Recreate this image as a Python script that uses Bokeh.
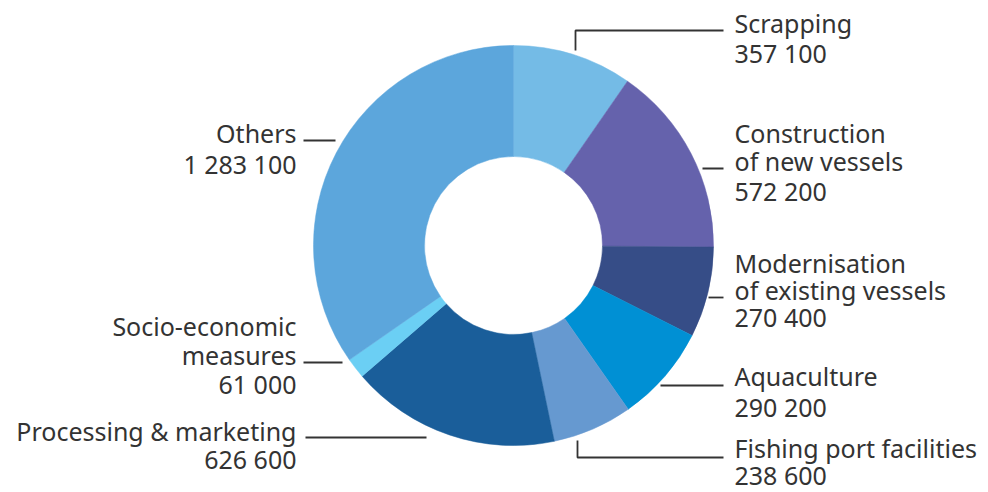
import math
from bokeh.plotting import figure
from bokeh.models import Range1d, ColumnDataSource
from bokeh.core.properties import value
from bokeh.embed import file_html
from bokeh.resources import INLINE

# ---- data ----
categories = ["Scrapping", "Construction of new vessels", "Modernisation of existing vessels",
              "Aquaculture", "Fishing port facilities", "Processing & marketing",
              "Socio-economic measures", "Others"]
amounts = [357100, 572200, 270400, 290200, 238600, 626600, 61000, 1283100]
colors = ["#74bbe6", "#6562ac", "#364d87", "#0090d4", "#6699d0", "#1a5e9a", "#6bcff4", "#5ca6dc"]
label_lines = [["Scrapping"], ["Construction", "of new vessels"], ["Modernisation", "of existing vessels"],
               ["Aquaculture"], ["Fishing port facilities"], ["Processing & marketing"],
               ["Socio-economic", "measures"], ["Others"]]

def fmt(v):
    return f"{v:,}".replace(",", " ")

# ---- layout (page pixel coords) ----
W, H = 988, 492
def X(px): return px
def Y(py): return H - py

CX, CY = X(513), Y(245)
R_OUT, R_IN = 200, 89

p = figure(width=W, height=H, output_backend="svg", toolbar_location=None,
           x_range=Range1d(0, W), y_range=Range1d(0, H), min_border=0,
           outline_line_color=None, background_fill_color="white", border_fill_color="white")
p.axis.visible = False
p.grid.visible = False

total = sum(amounts)
cum = 0
starts, ends = [], []
for a in amounts:
    s = math.pi / 2 - 2 * math.pi * (cum + a) / total
    e = math.pi / 2 - 2 * math.pi * cum / total
    starts.append(s); ends.append(e)
    cum += a

src = ColumnDataSource(dict(start=starts, end=ends, color=colors, cat=categories))
p.annular_wedge(x=CX, y=CY, inner_radius=R_IN, outer_radius=R_OUT, inner_radius_units="screen",
                outer_radius_units="screen", start_angle="start", end_angle="end",
                direction="anticlock", fill_color="color", line_color="color", line_width=0.5, source=src)

# label placement: (anchor x, align, line y positions) and leader polylines
label_pos = [
    (734, "left", [22, 52]),
    (734, "left", [132, 160, 190]),
    (734, "left", [262, 289, 316]),
    (734, "left", [375, 406]),
    (734, "left", [447, 474]),
    (296, "right", [430, 458]),
    (296, "right", [325, 354, 383]),
    (296, "right", [132, 163]),
]
leaders = [
    [(575, 50), (575, 30), (723, 30)],
    [(702, 168), (723, 168)],
    [(708, 297), (723, 297)],
    [(660, 385), (723, 385)],
    [(577, 440), (577, 457), (723, 457)],
    [(305, 437), (426, 437)],
    [(303, 362), (342, 362)],
    [(303, 140), (335, 140)],
]

tx, ty, tt, ta = [], [], [], []
for i, (lx, align, ys) in enumerate(label_pos):
    lines = label_lines[i] + [fmt(amounts[i])]
    for line, yy in zip(lines, ys):
        tx.append(X(lx)); ty.append(Y(yy)); tt.append(line); ta.append(align)

tsrc = ColumnDataSource(dict(x=tx, y=ty, text=tt, align=ta))
p.text(x="x", y="y", text="text", text_align="align", text_baseline="middle",
       text_font=value("Noto Sans"), text_font_size="25px", text_color="#333333", source=tsrc)

p.multi_line(xs=[[X(a) for a, b in L] for L in leaders], ys=[[Y(b) for a, b in L] for L in leaders],
             line_color="#333333", line_width=1.8)

open("out.html", "w").write(file_html(p, INLINE))
